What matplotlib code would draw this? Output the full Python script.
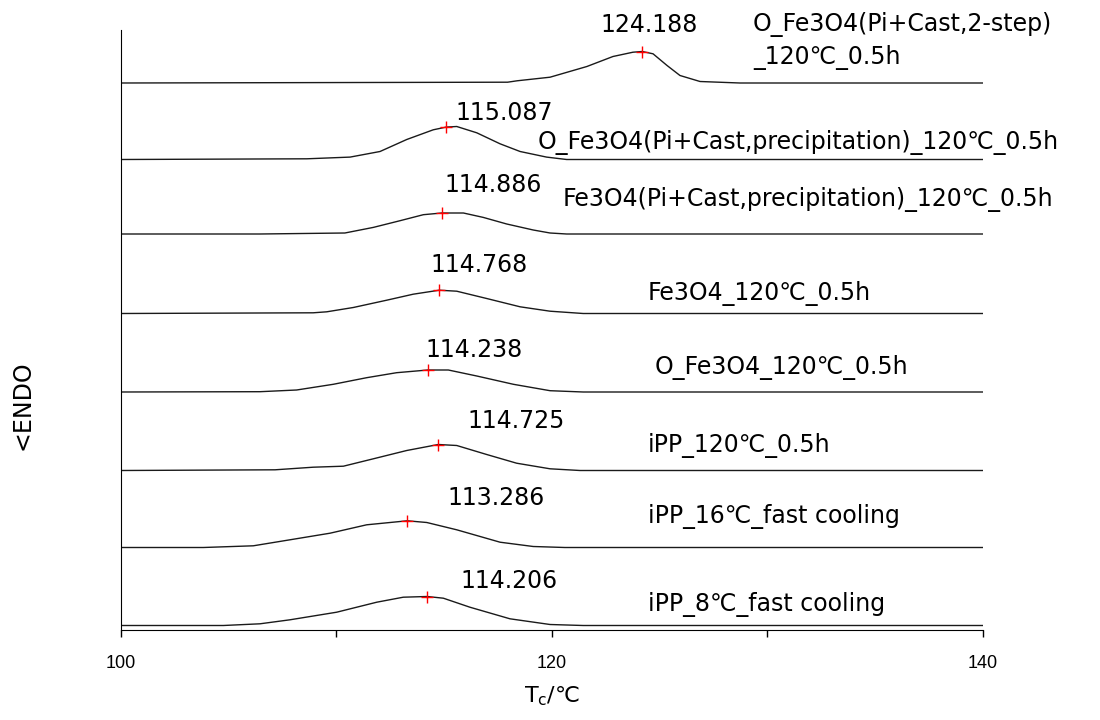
import numpy as np
import matplotlib
matplotlib.use("Agg")
import matplotlib.pyplot as plt
from matplotlib.ticker import MultipleLocator

plt.rcParams['font.family'] = ['DejaVu Sans']

# DSC cooling traces (temperature in C, signal above its own baseline)
t1 = [100, 117.94, 118.38, 119.91, 121.62, 122.83, 123.76, 124.188, 124.69, 125.34, 125.94, 126.87, 128.72, 140]
s1 = [0, 0.8, 2.2, 5.8, 16.5, 26.5, 30.8, 31.5, 29.2, 17.5, 7.5, 1.5, 0, 0]

t2 = [100, 108.62, 110.63, 112.02, 113.26, 114.49, 115.087, 115.58, 116.51, 117.59, 118.52, 119.75, 120.68, 140]
s2 = [0, 0.7, 2.4, 8, 20, 29.7, 32.4, 33, 26.7, 15.7, 8, 2.4, 0, 0]

t3 = [100, 106.45, 110.39, 111.71, 112.95, 114.03, 114.886, 115.89, 116.81, 117.90, 119.13, 119.91, 120.68, 140]
s3 = [0, 0, 1, 6.6, 13.3, 19.3, 21, 21, 16.6, 10, 4, 1, 0, 0]

t4 = [100, 108.92, 109.55, 110.78, 112.33, 113.56, 114.768, 115.58, 116.97, 118.52, 119.91, 121.45, 140]
s4 = [0, 0.7, 1.7, 6, 13.3, 19.3, 23.3, 22.3, 15, 6.7, 2.3, 0, 0]

t5 = [100, 106.45, 108.15, 109.85, 111.40, 112.79, 114.238, 115.19, 116.51, 118.21, 119.91, 121.45, 140]
s5 = [0, 0.3, 2, 7.7, 14.3, 19.3, 22, 22, 16, 7.7, 1.3, 0, 0]

t6 = [100, 107.15, 108.92, 110.32, 111.71, 113.26, 114.725, 115.58, 116.97, 118.36, 119.91, 121.30, 140]
s6 = [0, 0.7, 3.3, 4.3, 11.7, 20, 26, 25, 16, 7.3, 1.7, 0, 0]

t7 = [100, 103.82, 106.14, 107.84, 109.70, 111.40, 113.286, 114.19, 115.58, 117.59, 119.13, 120.60, 140]
s7 = [0, 0, 1.7, 7.7, 14.3, 22.7, 26.7, 25, 17.7, 5.3, 1, 0, 0]

t8 = [100, 104.75, 106.45, 107.84, 110.01, 111.87, 113.10, 114.206, 114.96, 116.19, 118.05, 119.91, 121.45, 140]
s8 = [0, 0, 1.7, 5.7, 13.3, 23.3, 28.3, 29, 27.3, 18.3, 6.7, 1, 0, 0]

temps = [t1, t2, t3, t4, t5, t6, t7, t8]
signals = [s1, s2, s3, s4, s5, s6, s7, s8]
baselines = [544, 467.5, 393, 313.5, 235, 156.5, 79.5, 1.5]
peaks = [124.188, 115.087, 114.886, 114.768, 114.238, 114.725, 113.286, 114.206]
names = ["O_Fe3O4(Pi+Cast,2-step)\n_120℃_0.5h",
         "O_Fe3O4(Pi+Cast,precipitation)_120℃_0.5h",
         "Fe3O4(Pi+Cast,precipitation)_120℃_0.5h",
         "Fe3O4_120℃_0.5h",
         "O_Fe3O4_120℃_0.5h",
         "iPP_120℃_0.5h",
         "iPP_16℃_fast cooling",
         "iPP_8℃_fast cooling"]

# where the text sits (left x in C, baseline y in data units)
peak_lbl_pos = [(122.23, 595.5), (115.50, 507), (115.03, 435), (114.34, 355),
                (114.11, 270), (116.06, 199), (115.13, 122), (115.73, 39)]
name_pos = [(129.33, 596), (119.35, 478), (120.51, 421), (124.45, 327),
            (124.78, 253), (124.45, 175), (124.45, 104), (124.45, 16)]
line_step = 33

fig = plt.figure(figsize=(11, 7.2), dpi=100)
ax = fig.add_axes([0.11, 1 - 630 / 720, 0.7836, 600 / 720])

for t, s, b, pk, nm, pl, npos in zip(temps, signals, baselines, peaks, names, peak_lbl_pos, name_pos):
    y = np.array(s) + b
    ax.plot(t, y, color='#1a1a1a', lw=1.0)
    ax.plot([pk], [np.interp(pk, t, y)], marker='+', color='red', ms=8, mew=1.0)
    ax.text(pl[0], pl[1], f"{pk:.3f}", fontsize=17, ha='left', va='baseline')
    for i, line in enumerate(nm.split("\n")):
        ax.text(npos[0], npos[1] - i * line_step, line, fontsize=17, ha='left',
                va='baseline', clip_on=False)

ax.set_xlim(100, 140)
ax.set_ylim(-3, 597)
ax.spines['top'].set_visible(False)
ax.spines['right'].set_visible(False)
ax.set_yticks([])
ax.xaxis.set_major_locator(MultipleLocator(20))
ax.xaxis.set_minor_locator(MultipleLocator(10))
ax.tick_params(axis='x', which='both', direction='out', length=5, width=1.0)
ax.tick_params(axis='x', labelsize=13, pad=13)
for lbl in ax.get_xticklabels():
    lbl.set_family(['Liberation Sans'])

ax.set_xlabel(r'T$_{\rm c}$/℃', fontsize=16, labelpad=9)
fig.text(23 / 1100, 1 - 405 / 720, '<ENDO', fontsize=17, rotation=90,
         ha='center', va='center')

fig.savefig("out.png", dpi=100)
